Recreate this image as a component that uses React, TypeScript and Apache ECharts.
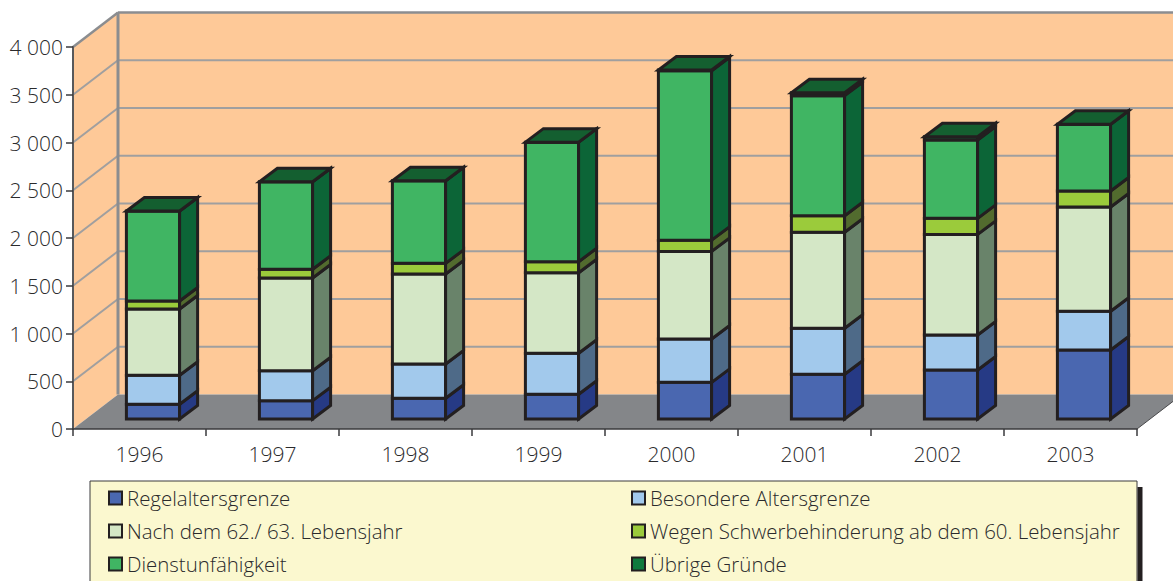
import React, { useEffect, useRef } from "react";
import * as echarts from "echarts";

const years = ["1996", "1997", "1998", "1999", "2000", "2001", "2002", "2003"];
const regelaltersgrenze = [154, 192, 217, 259, 384, 468, 513, 723];
const besondereAltersgrenze = [304, 314, 359, 429, 453, 482, 366, 405];
const nachDem62 = [694, 971, 942, 844, 918, 1005, 1054, 1092];
const schwerbehinderung = [84, 91, 112, 115, 118, 174, 168, 168];
const dienstunfaehigkeit = [942, 917, 865, 1252, 1773, 1257, 820, 698];
const uebrigeGruende = [0, 0, 0, 0, 8, 31, 35, 0];
const yTicks = [0, 500, 1000, 1500, 2000, 2500, 3000, 3500, 4000];

const stacks = [
  { name: "Regelaltersgrenze", values: regelaltersgrenze, front: "#4a67b0", side: "#263a85" },
  { name: "Besondere Altersgrenze", values: besondereAltersgrenze, front: "#a2c9ec", side: "#4e6a88" },
  { name: "Nach dem 62./ 63. Lebensjahr", values: nachDem62, front: "#d4e7c6", side: "#69836a" },
  { name: "Wegen Schwerbehinderung ab dem 60. Lebensjahr", values: schwerbehinderung, front: "#9bcb3b", side: "#526b2e" },
  { name: "Dienstunfähigkeit", values: dienstunfaehigkeit, front: "#40b563", side: "#0c6537" },
  { name: "Übrige Gründe", values: uebrigeGruende, front: "#0f7a3d", side: "#0c6537", top: "#145f30" },
];

const DEPTH_X = 45;
const DEPTH_Y = 34.5;
const BAR_SHIFT_X = 13.5;
const BAR_SHIFT_Y = 10;
const BAR_SIDE_X = 18;
const BAR_SIDE_Y = 13.5;
const OUTLINE = "#231f20";

function renderWalls(_params: any, api: any) {
  const [x0, y0] = api.coord([0, 0]);
  const [, yTop] = api.coord([0, 4000]);
  const catW = api.size([1, 0])[0];
  const x1 = x0 - catW / 2;
  const x2 = x1 + catW * years.length;
  const bx = x1 + DEPTH_X;
  const dy = DEPTH_Y;
  const poly = (points: number[][], fill: string) => ({ type: "polygon", shape: { points }, style: { fill, stroke: "none" } });
  const line = (a: number[], b: number[], stroke: string, lineWidth: number) => ({
    type: "line",
    shape: { x1: a[0], y1: a[1], x2: b[0], y2: b[1] },
    style: { stroke, lineWidth },
  });
  const children: any[] = [
    poly([[x1, y0], [bx, y0 - dy], [bx, yTop - dy], [x1, yTop]], "#fec998"),
    poly([[bx, y0 - dy], [x2 + DEPTH_X, y0 - dy], [x2 + DEPTH_X, yTop - dy], [bx, yTop - dy]], "#fec998"),
    poly([[x1, y0], [bx, y0 - dy], [x2 + DEPTH_X, y0 - dy], [x2, y0]], "#848689"),
  ];
  yTicks.slice(1).forEach((t) => {
    const y = api.coord([0, t])[1];
    const c = t === 4000 ? "#8b8d90" : "#a09f9f";
    const w = t === 4000 ? 2.5 : 2;
    children.push(line([x1, y], [bx, y - dy], c, w));
    children.push(line([bx, y - dy], [x2 + DEPTH_X, y - dy], c, w));
  });
  children.push(line([bx, y0 - dy], [bx, yTop - dy], "#8b8d90", 3));
  children.push(line([x2, y0], [x2 + DEPTH_X, y0 - dy], "#4a4a4c", 1));
  return { type: "group", children };
}

function makeBarRenderer(stackIndex: number) {
  const s = stacks[stackIndex];
  const isLast = stackIndex === stacks.length - 1;
  return (_params: any, api: any) => {
    const idx = api.value(0);
    const catW = api.size([1, 0])[0];
    const barW = catW * 0.4;
    const [cx, yA] = api.coord([idx, api.value(1)]);
    const yB = api.coord([idx, api.value(2)])[1];
    const l = cx + BAR_SHIFT_X - barW / 2;
    const r = l + barW;
    const bot = yA - BAR_SHIFT_Y;
    const top = yB - BAR_SHIFT_Y;
    const poly = (points: number[][], fill: string) => ({
      type: "polygon",
      shape: { points },
      style: { fill, stroke: OUTLINE, lineWidth: 3, lineJoin: "miter" },
    });
    const children: any[] = [
      poly([[l, bot], [r, bot], [r, top], [l, top]], s.front),
      poly([[r, bot], [r + BAR_SIDE_X, bot - BAR_SIDE_Y], [r + BAR_SIDE_X, top - BAR_SIDE_Y], [r, top]], s.side),
    ];
    if (isLast) {
      children.push(poly([[l, top], [r, top], [r + BAR_SIDE_X, top - BAR_SIDE_Y], [l + BAR_SIDE_X, top - BAR_SIDE_Y]], (s as any).top));
    }
    return { type: "group", children };
  };
}

function buildSeries() {
  const running = years.map(() => 0);
  const bars = stacks.map((s, si) => {
    const data = s.values.map((v, i) => {
      const start = running[i];
      running[i] += v;
      return [i, start, running[i]];
    });
    return {
      type: "custom",
      name: s.name,
      data,
      encode: { x: 0, y: [1, 2] },
      renderItem: makeBarRenderer(si),
      itemStyle: { color: s.front },
      z: 3 + si,
      silent: true,
    };
  });
  return [
    {
      type: "custom",
      name: "Wände",
      data: [[0, 0, 4000]],
      encode: { x: 0, y: [1, 2] },
      renderItem: renderWalls,
      z: 1,
      silent: true,
    },
    ...bars,
  ];
}

function legendFor(left: number, picks: number[]) {
  return {
    orient: "vertical",
    left,
    top: 488,
    padding: 0,
    itemWidth: 13,
    itemHeight: 13,
    itemGap: 13,
    icon: "rect",
    selectedMode: false,
    z: 5,
    textStyle: { fontFamily: "Open Sans", fontSize: 20.45, fontWeight: 300, color: "#2a2a2c" },
    data: picks.map((i) => ({
      name: stacks[i].name,
      itemStyle: { color: stacks[i].front, borderColor: OUTLINE, borderWidth: 2 },
    })),
  };
}

export default function App() {
  const ref = useRef<HTMLDivElement>(null);
  useEffect(() => {
    document.body.style.margin = "0";
    const chart = echarts.init(ref.current!, undefined, { renderer: "svg" });
    chart.setOption({
      animation: false,
      backgroundColor: "#ffffff",
      grid: { left: 73, right: 36, top: 47, bottom: 152 },
      xAxis: {
        type: "category",
        data: years,
        z: 10,
        axisLine: { lineStyle: { color: "#3a3a3c", width: 1.5 } },
        axisTick: { show: true, length: 7, alignWithLabel: false, lineStyle: { color: "#3a3a3c", width: 1.5 } },
        axisLabel: { fontFamily: "Open Sans", fontSize: 21, fontWeight: 300, color: "#2a2a2c", margin: 14 },
        splitLine: { show: false },
      },
      yAxis: {
        type: "value",
        min: 0,
        max: 4000,
        interval: 500,
        z: 10,
        axisLine: { show: true, lineStyle: { color: "#58595b", width: 2 } },
        axisTick: { show: true, length: 7, lineStyle: { color: "#3a3a3c", width: 1.5 } },
        axisLabel: {
          fontFamily: "Open Sans",
          fontSize: 21,
          fontWeight: 300,
          color: "#2a2a2c",
          margin: 10,
          formatter: (v: number) => (v >= 1000 ? `${Math.floor(v / 1000)} ${String(v % 1000).padStart(3, "0")}` : String(v)),
        },
        splitLine: { show: false },
      },
      legend: [legendFor(108, [0, 2, 4]), legendFor(631, [1, 3, 5])],
      graphic: {
        elements: [
          { type: "rect", z: 2, shape: { x: 90, y: 481, width: 1047, height: 110 }, style: { fill: "#fbf8cf", stroke: "#3a3a3c", lineWidth: 1 } },
          { type: "line", z: 3, shape: { x1: 1140, y1: 487, x2: 1140, y2: 581 }, style: { stroke: "#231f20", lineWidth: 5 } },
        ],
      },
      series: buildSeries(),
    });
    return () => chart.dispose();
  }, []);
  return <div ref={ref} style={{ position: "absolute", left: 0, top: 0, width: 1173, height: 581 }} />;
}
